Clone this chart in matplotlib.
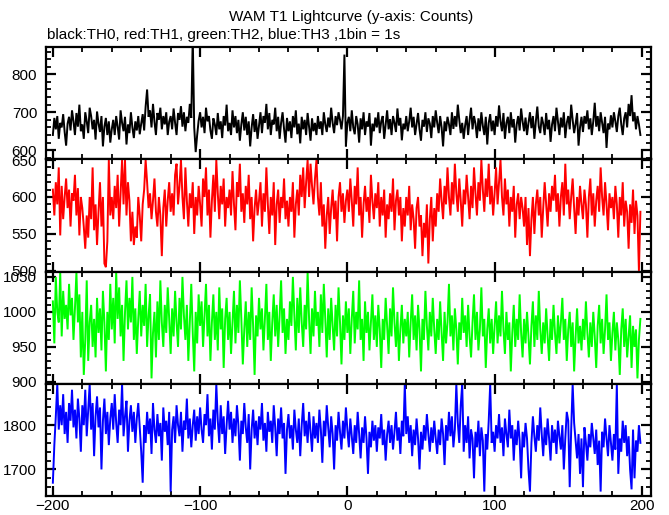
import numpy as np
import matplotlib
matplotlib.use("Agg")
import matplotlib.pyplot as plt
from matplotlib.ticker import MultipleLocator

plt.rcParams['font.family'] = ['Liberation Sans', 'DejaVu Sans']

# time bins (1 s) from -200 s to 199 s
t_start, t_stop = -200, 200

th0 = [
    640, 685, 655, 690, 630, 672, 660, 695, 648, 612, 670, 688, 652, 705, 676, 640, 698, 662, 720, 650,
    668, 630, 700, 676, 645, 712, 690, 655, 680, 628, 702, 670, 648, 690, 610, 662, 685, 640, 676, 620,
    655, 680, 640, 690, 662, 628, 705, 672, 650, 688, 615, 668, 645, 700, 660, 632, 676, 652, 690, 642,
    670, 695, 652, 715, 760, 688, 705, 660, 722, 675, 640, 698, 680, 712, 655, 690, 668, 700, 640, 675,
    690, 655, 710, 672, 640, 698, 680, 716, 662, 700, 650, 688, 672, 722, 685, 900, 660, 595, 640, 678,
    700, 660, 688, 645, 712, 676, 690, 652, 630, 684, 668, 640, 698, 655, 676, 632, 690, 665, 720, 650,
    672, 640, 705, 660, 690, 645, 680, 625, 668, 700, 652, 688, 640, 676, 610, 660, 695, 648, 682, 630,
    664, 700, 645, 690, 672, 722, 655, 698, 640, 680, 668, 712, 650, 688, 630, 672, 700, 656, 620, 685,
    650, 676, 632, 690, 660, 705, 642, 670, 618, 688, 655, 680, 640, 698, 662, 625, 684, 650, 672, 640,
    690, 656, 676, 640, 700, 668, 648, 686, 660, 712, 672, 645, 690, 666, 700, 680, 655, 690, 852, 610,
    672, 688, 650, 705, 660, 642, 690, 668, 620, 684, 655, 700, 640, 676, 662, 698, 612, 670, 650, 686,
    660, 700, 645, 676, 690, 630, 668, 705, 655, 682, 640, 690, 672, 648, 710, 665, 685, 626, 670, 655,
    690, 650, 676, 712, 660, 688, 640, 670, 698, 655, 625, 680, 662, 700, 648, 684, 670, 632, 690, 660,
    705, 672, 645, 690, 660, 610, 676, 650, 688, 668, 640, 700, 656, 690, 662, 720, 680, 645, 672, 630,
    666, 690, 640, 680, 712, 655, 690, 670, 632, 684, 650, 700, 664, 640, 688, 615, 672, 695, 650, 678,
    640, 690, 662, 718, 676, 650, 698, 630, 672, 688, 645, 700, 660, 682, 620, 668, 690, 652, 710, 676,
    650, 686, 640, 672, 700, 658, 690, 630, 676, 715, 662, 645, 688, 670, 640, 698, 655, 680, 622, 668,
    690, 650, 712, 676, 640, 686, 660, 700, 632, 672, 690, 655, 720, 680, 645, 670, 698, 612, 660, 688,
    648, 690, 670, 705, 655, 684, 640, 676, 725, 662, 690, 650, 700, 672, 645, 688, 606, 670, 655, 692,
    660, 700, 676, 648, 690, 712, 668, 640, 684, 700, 660, 722, 690, 745, 676, 700, 655, 690, 668, 640,
]

th1 = [
    610, 575, 620, 590, 640, 548, 615, 570, 600, 625, 585, 610, 560, 605, 595, 630, 575, 612, 548, 600,
    585, 560, 530, 575, 545, 600, 570, 640, 555, 590, 535, 580, 620, 560, 600, 510, 505, 540, 650, 575,
    600, 570, 615, 585, 630, 560, 605, 650, 590, 650, 575, 620, 595, 540, 580, 535, 560, 545, 600, 575,
    540, 590, 610, 650, 620, 585, 605, 570, 595, 625, 580, 560, 600, 575, 520, 585, 610, 560, 595, 620,
    580, 605, 575, 630, 645, 590, 615, 650, 600, 570, 640, 595, 560, 605, 585, 620, 550, 600, 575, 615,
    590, 560, 625, 600, 640, 575, 610, 545, 595, 630, 580, 650, 605, 570, 615, 590, 625, 560, 600, 585,
    610, 575, 635, 590, 555, 620, 600, 645, 580, 605, 565, 615, 590, 630, 570, 600, 540, 585, 610, 575,
    595, 620, 560, 605, 580, 640, 590, 550, 600, 575, 620, 535, 590, 610, 565, 600, 585, 625, 570, 595,
    560, 600, 580, 620, 545, 590, 610, 575, 630, 600, 640, 585, 620, 650, 600, 645, 615, 590, 625, 650,
    600, 575, 620, 560, 590, 530, 575, 600, 550, 585, 610, 570, 595, 540, 600, 620, 580, 605, 565, 595,
    610, 580, 625, 595, 560, 615, 590, 640, 575, 600, 545, 590, 615, 580, 600, 565, 630, 595, 570, 605,
    585, 620, 560, 600, 575, 610, 545, 590, 570, 605, 580, 625, 555, 595, 610, 575, 600, 540, 585, 560,
    600, 575, 615, 555, 590, 570, 530, 585, 600, 560, 575, 520, 565, 545, 590, 510, 570, 600, 540, 585,
    560, 605, 580, 625, 595, 570, 615, 590, 640, 600, 575, 620, 590, 645, 605, 580, 625, 595, 560, 610,
    590, 630, 600, 570, 615, 585, 640, 605, 575, 620, 595, 650, 610, 580, 625, 600, 645, 590, 615, 575,
    605, 640, 590, 620, 650, 600, 575, 625, 590, 610, 560, 600, 580, 615, 545, 590, 605, 570, 600, 585,
    560, 600, 535, 585, 520, 570, 600, 550, 590, 610, 575, 600, 545, 585, 620, 590, 560, 605, 580, 615,
    595, 630, 580, 605, 560, 600, 620, 575, 645, 590, 610, 570, 600, 625, 585, 550, 600, 575, 615, 590,
    570, 610, 590, 545, 600, 625, 575, 605, 560, 595, 615, 580, 640, 600, 575, 620, 590, 555, 605, 585,
    600, 570, 615, 590, 545, 600, 575, 620, 560, 595, 580, 530, 590, 565, 610, 550, 595, 575, 500, 580,
]

th2 = [
    1015, 955, 1050, 1000, 985, 1057, 965, 1030, 990, 1010, 975, 1040, 995, 1020, 960, 1005, 1057, 985, 1025, 935,
    1000, 910, 960, 1045, 930, 985, 1010, 950, 990, 935, 1020, 970, 1005, 945, 1030, 985, 915, 1000, 960, 1040,
    975, 1020, 955, 1057, 990, 1035, 965, 1010, 930, 1000, 1045, 975, 1020, 985, 1050, 960, 1005, 940, 990, 1030,
    965, 1010, 980, 1040, 950, 995, 1025, 905, 970, 1000, 935, 1015, 960, 1045, 985, 950, 1010, 970, 1035, 990,
    940, 1005, 965, 1030, 985, 950, 1020, 975, 1050, 995, 960, 1010, 930, 985, 1040, 970, 915, 1000, 955, 1025,
    980, 1015, 950, 995, 1040, 965, 1010, 930, 985, 1025, 960, 1000, 945, 1035, 975, 1005, 920, 990, 1020, 960,
    1000, 940, 985, 1030, 955, 1010, 970, 1045, 990, 925, 975, 1015, 950, 1000, 960, 1035, 980, 910, 995, 965,
    1020, 975, 1005, 945, 990, 1040, 960, 1000, 930, 985, 1025, 965, 1010, 950, 995, 1045, 970, 1005, 940, 990,
    960, 1015, 980, 1050, 995, 945, 1020, 970, 1035, 985, 950, 1010, 975, 1057, 990, 940, 1005, 965, 1030, 980,
    1000, 950, 1025, 970, 1040, 990, 935, 1005, 960, 1020, 980, 945, 1010, 965, 1035, 985, 925, 995, 960, 1015,
    970, 1005, 940, 990, 1030, 955, 1000, 975, 1045, 960, 990, 930, 1015, 970, 1000, 945, 985, 1025, 960, 995,
    950, 1010, 975, 920, 990, 960, 1020, 980, 940, 1005, 965, 1035, 985, 950, 1000, 930, 975, 1010, 955, 990,
    965, 1000, 935, 985, 1025, 960, 995, 945, 1010, 975, 915, 990, 960, 1030, 980, 945, 1000, 965, 1020, 975,
    940, 990, 960, 1015, 970, 930, 1000, 955, 985, 1040, 965, 995, 945, 1005, 975, 925, 985, 960, 1020, 970,
    995, 950, 1010, 965, 935, 985, 1025, 960, 1000, 945, 975, 1035, 965, 990, 920, 975, 1005, 955, 990, 940,
    980, 1015, 955, 995, 965, 1030, 975, 940, 1000, 960, 985, 915, 970, 1010, 950, 990, 960, 1025, 970, 935,
    990, 955, 1000, 965, 925, 980, 1015, 950, 995, 960, 1030, 975, 940, 985, 955, 1005, 965, 930, 990, 960,
    1010, 970, 940, 995, 955, 985, 1020, 960, 990, 930, 975, 1000, 950, 985, 915, 965, 1005, 955, 980, 945,
    990, 960, 1015, 970, 935, 985, 950, 1000, 965, 920, 980, 1010, 955, 990, 940, 975, 1025, 960, 985, 930,
    970, 1000, 945, 985, 960, 910, 975, 1005, 950, 990, 935, 965, 995, 920, 980, 950, 975, 905, 960, 990,
]

th3 = [
    1670, 1755, 1820, 1893, 1790, 1845, 1800, 1870, 1780, 1830, 1760, 1850, 1810, 1880, 1795, 1835, 1770, 1860, 1815, 1740,
    1845, 1800, 1880, 1775, 1835, 1893, 1790, 1850, 1730, 1820, 1865, 1795, 1840, 1700, 1810, 1860, 1780, 1830, 1755, 1815,
    1850, 1790, 1870, 1805, 1760, 1835, 1800, 1893, 1775, 1820, 1855, 1740, 1810, 1845, 1785, 1830, 1760, 1815, 1850, 1795,
    1740, 1670, 1800, 1760, 1830, 1780, 1815, 1735, 1850, 1790, 1760, 1825, 1775, 1805, 1720, 1840, 1785, 1810, 1755, 1830,
    1650, 1790, 1820, 1760, 1845, 1800, 1775, 1830, 1740, 1810, 1790, 1860, 1770, 1815, 1750, 1800, 1835, 1765, 1820, 1780,
    1840, 1790, 1760, 1825, 1800, 1870, 1775, 1815, 1745, 1835, 1790, 1893, 1810, 1760, 1845, 1780, 1820, 1735, 1800, 1855,
    1790, 1830, 1760, 1815, 1775, 1845, 1800, 1720, 1810, 1780, 1850, 1795, 1760, 1825, 1700, 1790, 1835, 1770, 1810, 1755,
    1820, 1790, 1850, 1765, 1805, 1740, 1830, 1785, 1810, 1760, 1845, 1795, 1730, 1815, 1780, 1840, 1770, 1805, 1690, 1790,
    1825, 1770, 1800, 1745, 1835, 1790, 1760, 1815, 1730, 1800, 1850, 1775, 1810, 1760, 1830, 1785, 1740, 1820, 1770, 1805,
    1760, 1835, 1790, 1715, 1810, 1775, 1845, 1795, 1750, 1820, 1780, 1700, 1800, 1765, 1830, 1785, 1745, 1810, 1770, 1840,
    1790, 1750, 1815, 1775, 1735, 1800, 1760, 1830, 1780, 1725, 1795, 1760, 1820, 1770, 1690, 1785, 1750, 1810, 1765, 1800,
    1740, 1795, 1770, 1825, 1755, 1790, 1720, 1780, 1810, 1760, 1800, 1745, 1785, 1830, 1765, 1795, 1735, 1810, 1775, 1893,
    1780, 1820, 1760, 1800, 1730, 1790, 1755, 1815, 1770, 1700, 1785, 1745, 1800, 1765, 1825, 1780, 1740, 1795, 1760, 1810,
    1770, 1735, 1790, 1755, 1815, 1780, 1710, 1800, 1765, 1830, 1775, 1820, 1750, 1790, 1893, 1805, 1760, 1845, 1893, 1740,
    1800, 1760, 1820, 1725, 1790, 1770, 1680, 1785, 1750, 1810, 1730, 1795, 1765, 1650, 1780, 1745, 1810, 1893, 1760, 1785,
    1740, 1800, 1770, 1825, 1760, 1795, 1730, 1815, 1780, 1750, 1835, 1770, 1800, 1720, 1790, 1755, 1810, 1765, 1680, 1785,
    1750, 1805, 1770, 1700, 1650, 1760, 1820, 1775, 1740, 1800, 1765, 1840, 1780, 1730, 1795, 1755, 1815, 1770, 1720, 1800,
    1760, 1790, 1735, 1810, 1775, 1745, 1800, 1700, 1770, 1830, 1810, 1660, 1790, 1893, 1805, 1765, 1725, 1780, 1690, 1770,
    1660, 1795, 1760, 1720, 1780, 1750, 1805, 1770, 1735, 1790, 1710, 1765, 1650, 1785, 1750, 1815, 1770, 1730, 1800, 1760,
    1720, 1780, 1745, 1893, 1690, 1770, 1740, 1810, 1760, 1800, 1730, 1775, 1700, 1655, 1790, 1680, 1765, 1740, 1800, 1760,
]

series = [th0, th1, th2, th3]
colors = ['black', '#ff0000', '#00ff00', '#0000ff']
ylims = [(576, 872), (498.5, 651), (897, 1057), (1640, 1893)]
ymajor = [100, 50, 50, 100]
yminor = [20, 10, 10, 20]

title = "WAM T1 Lightcurve (y-axis: Counts)"
subtitle = "black:TH0, red:TH1, green:TH2, blue:TH3 ,1bin = 1s"

W, H = 669, 515
fig = plt.figure(figsize=(W / 100, H / 100), dpi=100)

left = 45.5 / W
right = 650.7 / W
edges = [47, 159.3, 272, 384, 496]

t = np.arange(t_start, t_stop)

for i, (ys, c) in enumerate(zip(series, colors)):
    top_px, bot_px = edges[i], edges[i + 1]
    ax = fig.add_axes([left, 1 - bot_px / H, right - left, (bot_px - top_px) / H])
    ax.plot(t, ys, color=c, lw=1.4, solid_joinstyle='miter')
    ax.set_xlim(-205, 206)
    ax.set_ylim(*ylims[i])
    ax.xaxis.set_major_locator(MultipleLocator(100))
    ax.xaxis.set_minor_locator(MultipleLocator(20))
    ax.yaxis.set_major_locator(MultipleLocator(ymajor[i]))
    ax.yaxis.set_minor_locator(MultipleLocator(yminor[i]))
    ax.tick_params(which='both', direction='in', top=True, right=True,
                   labelsize=11, pad=6)
    ax.tick_params(which='major', length=7, width=1.6)
    ax.tick_params(which='minor', length=3.5, width=1.3)
    for s in ax.spines.values():
        s.set_linewidth(1.6)
    if i < 3:
        ax.tick_params(labelbottom=False)
    else:
        ax.tick_params(axis='x', pad=2.5)

fig.text(0.525, 1 - 17.5 / H, title, ha='center', va='center', fontsize=11)
fig.text(47 / W, 1 - 35 / H, subtitle, ha='left', va='center', fontsize=11)

fig.savefig("out.png", dpi=100)
